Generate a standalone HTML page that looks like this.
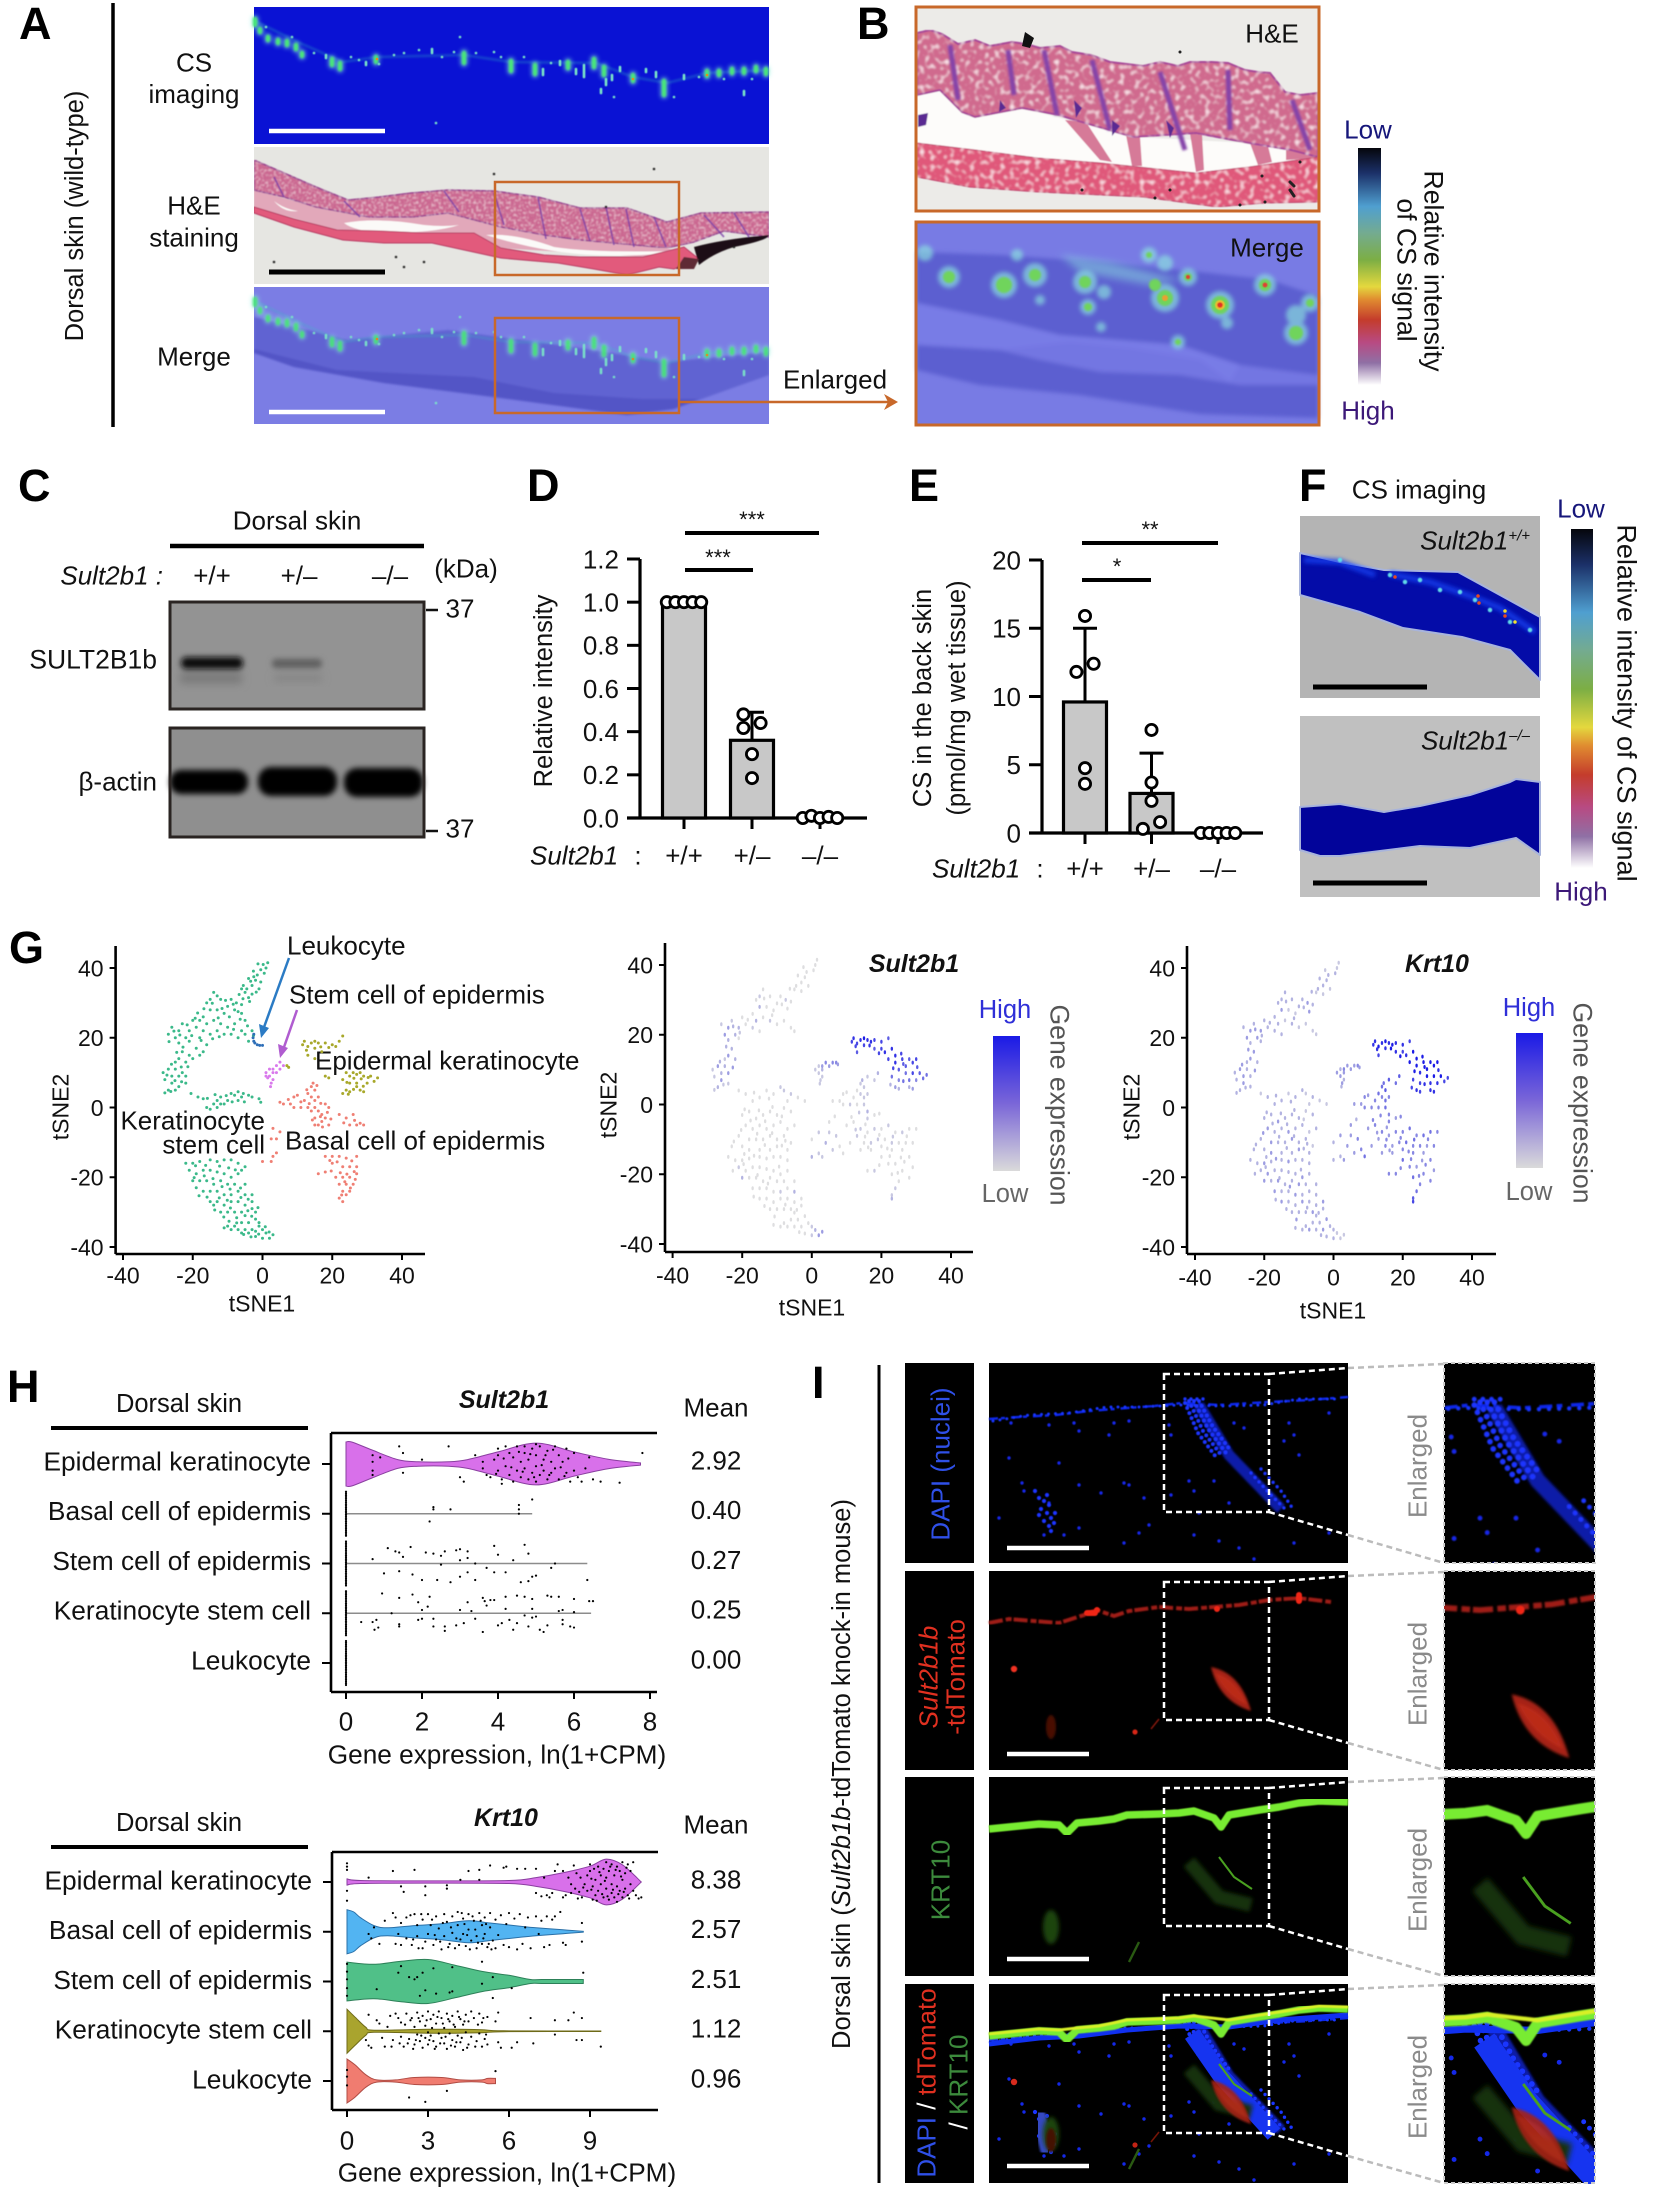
<!DOCTYPE html>
<html lang="en">
<head>
<meta charset="utf-8">
<title>Sult2b1 dorsal skin figure</title>
<style>
html,body{margin:0;padding:0;background:#fff;}
svg{display:block;}
text{font-family:"Liberation Sans",sans-serif;font-size:26px;fill:#111;}
.letter{font-size:45px;font-weight:bold;fill:#000;}
.m{text-anchor:middle;}
.e{text-anchor:end;}
.i{font-style:italic;}
.s25{font-size:25.5px;}
.s265{font-size:26.6px;}
.s22{font-size:22px;}
.s23{font-size:23px;}
.bi{font-weight:bold;font-style:italic;font-size:25px;}
.gray{fill:#8a8a8a;}
</style>
</head>
<body>
<svg id="fig" xmlns="http://www.w3.org/2000/svg" width="1654" height="2190" viewBox="0 0 1654 2190">
<defs>
<filter id="b05" x="-5%" y="-5%" width="110%" height="110%"><feGaussianBlur stdDeviation="0.6"/></filter>
<filter id="b1" x="-10%" y="-10%" width="120%" height="120%"><feGaussianBlur stdDeviation="1"/></filter>
<filter id="b2" x="-20%" y="-20%" width="140%" height="140%"><feGaussianBlur stdDeviation="2"/></filter>
<filter id="b3" x="-30%" y="-60%" width="160%" height="220%"><feGaussianBlur stdDeviation="3"/></filter>
<filter id="b4" x="-30%" y="-60%" width="160%" height="220%"><feGaussianBlur stdDeviation="4"/></filter>
<filter id="tex" x="0" y="0" width="100%" height="100%">
<feTurbulence type="fractalNoise" baseFrequency=".2" numOctaves="1" seed="3" result="n"/>
<feColorMatrix in="n" type="matrix" values="0 0 0 0 1  0 0 0 0 .86  0 0 0 0 .9  0 0 0 3 -1.55" result="w"/>
<feGaussianBlur in="w" stdDeviation=".7" result="ws"/>
<feComposite in="ws" in2="SourceAlpha" operator="in" result="wc"/>
<feMerge><feMergeNode in="SourceGraphic"/><feMergeNode in="wc"/></feMerge>
</filter>
<filter id="tex-fine" x="0" y="0" width="100%" height="100%">
<feTurbulence type="fractalNoise" baseFrequency=".4" numOctaves="1" seed="7" result="n"/>
<feColorMatrix in="n" type="matrix" values="0 0 0 0 1  0 0 0 0 .82  0 0 0 0 .88  0 0 0 1.8 -.85" result="w"/>
<feGaussianBlur in="w" stdDeviation=".6" result="ws"/>
<feComposite in="ws" in2="SourceAlpha" operator="in" result="wc"/>
<feMerge><feMergeNode in="SourceGraphic"/><feMergeNode in="wc"/></feMerge>
</filter>
<linearGradient id="cs-grad" x1="0" y1="0" x2="0" y2="1">
<stop offset="0" stop-color="#05060c"/><stop offset=".105" stop-color="#1b3068"/><stop offset=".246" stop-color="#4f9fd0"/><stop offset=".359" stop-color="#74ab90"/><stop offset=".472" stop-color="#7cae44"/><stop offset=".585" stop-color="#e4d83e"/><stop offset=".64" stop-color="#e08b30"/><stop offset=".725" stop-color="#c43c2c"/><stop offset=".82" stop-color="#b84a82"/><stop offset=".907" stop-color="#8f70a5"/><stop offset="1" stop-color="#ffffff"/>
</linearGradient>
<linearGradient id="gene-grad" x1="0" y1="0" x2="0" y2="1">
<stop offset="0" stop-color="#1a1ae6"/><stop offset=".5" stop-color="#7a66d8"/><stop offset="1" stop-color="#dadada"/>
</linearGradient>
<path id="he-upper" d="M0 13L30 26 62 40 94 53 125 50 157 46 194 43 240 44 284 50 326 61 373 61 413 75 447 66 515 65 515 90 470 84 440 95 413 101 370 97 326 93 290 88 247 80 194 66 160 70 115 70 62 60 30 50 0 43Z"/>
<path id="he-lower" d="M0 60L40 72 83 83 125 84 168 86 220 86 247 101 290 108 326 110 389 110 430 100 445 112 420 122 405 120 373 128 340 122 304 116 247 111 178 96 130 96 89 93 40 80 0 66Z"/>
<g id="cs-spots">
<path d="M1 14L46 36 89 55 123 50 210 48 257 55 342 56 379 70 413 76 453 66 515 63" fill="none" stroke="#30c8c0" stroke-width="2.5" opacity=".28" filter="url(#b1)"/>
<path d="M1 12v6M6 22v3M14 30v3M24 33v3M33 34v4M42 38v4M48 46v3M78 52v6M86 56v6M122 50v5M210 46v10M257 54v10M281 58v9M314 55v6M340 52v8M350 60v8M379 68v6M410 74v14M453 64v5M465 64v4M478 62v4M490 62v4M502 60v4M512 62v5" fill="none" stroke="#8ff0e0" stroke-width="8" stroke-linecap="round" opacity=".5" filter="url(#b2)"/>
<path d="M1 12v6M6 22v3M14 30v3M24 33v3M33 34v4M42 38v4M48 46v3M78 52v6M86 56v6M122 50v5M210 46v10M257 54v10M281 58v9M314 55v6M340 52v8M350 60v8M379 68v6M410 74v14M453 64v5M465 64v4M478 62v4M490 62v4M502 60v4M512 62v5" fill="none" stroke="#48e878" stroke-width="4.5" stroke-linecap="round" filter="url(#b1)"/>
<path d="M12 20h0M38 30h0M60 46h0M72 48v3M97 50h0M105 53h0M112 55v3M125 57h0M140 48h0M150 46h0M165 43h0M178 42v4M188 50h0M200 45h0M222 46h0M240 45h0M247 50h0M270 50h0M289 62v6M297 56h0M306 54v4M322 62v5M330 58v12M347 82v4M352 72v6M358 68v5M360 90h0M366 60v4M392 62v3M402 65v5M420 90h0M430 68v4M445 70h0M470 72h0M490 84v4M498 72h0M206 30h0M182 116h0" fill="none" stroke="#7ce8c8" stroke-width="2.6" stroke-linecap="round" filter="url(#b05)"/>
<path d="M123 52h0M379 72h0M453 68h0" fill="none" stroke="#e09020" stroke-width="2.6" stroke-linecap="round"/>
</g>
<g id="layer-dapi">
<path d="M0 56L30 54 67 52 100 48 138 45 165 43 193 40 230 42 280 39 320 37 359 34" fill="none" stroke="#0e28e8" stroke-width="2.5" stroke-dasharray="9 3 4 6"/>
<path d="M4 58L40 52 80 50 118 44 150 44 190 42 235 43 275 42 310 36 350 36" fill="none" stroke="#1636ff" stroke-width="3" stroke-dasharray="0 7" stroke-linecap="round"/>
<path d="M210 42L240 92 292 146" fill="none" stroke="#0a1aa8" stroke-width="11" filter="url(#b1)"/>
<path d="M200 38L214 68 232 92M205 38L219 66 237 90M210 38L224 64 242 88M196 40L209 70 227 94" fill="none" stroke="#1a36ff" stroke-width="4" stroke-dasharray="0 5.5" stroke-linecap="round"/>
<path d="M262 110L282 132 298 148M272 106L292 128 304 146M196 36h22" fill="none" stroke="#1a36ff" stroke-width="3.4" stroke-dasharray="0 6" stroke-linecap="round"/>
<path d="M22 60h0M60 62h0M90 68h0M85 60h0M125 60h0M120 72h0M140 58h0M180 62h0M182 72h0M245 60h0M255 65h0M300 60h0M305 72h0M340 50h0M310 92h0M295 78h0M20 95h0M33 120h0M35 128h0M70 100h0M135 120h0M140 122h0M112 130h0M90 122h0M155 135h0M182 132h0M200 118h0M205 128h0M225 118h0M240 140h0M210 150h0M160 162h0M150 170h0M135 180h0M205 172h0M230 178h0M250 185h0M265 196h0M305 180h0M340 170h0M55 172h0M75 172h0M90 165h0M10 155h0M60 140h0M50 135h0" fill="none" stroke="#1428e8" stroke-width="3.4" stroke-linecap="round"/>
<path d="M50 135h0M55 138h0M60 142h0M52 146h0M58 150h0M62 155h0M55 158h0M60 163h0M65 160h0M62 168h0M50 152h0M66 150h0M46 128h0M58 132h0" fill="none" stroke="#1a34ff" stroke-width="4.2" stroke-linecap="round"/>
</g>
<g id="layer-red">
<path d="M0 52L20 48 45 50 70 52 95 44 108 39 125 45 140 40 170 36 200 38 225 36 250 34 280 29 310 27 342 31" fill="none" stroke="#a01c14" stroke-width="4" stroke-dasharray="14 3 6 2" filter="url(#b05)"/>
<path d="M108 39h0M228 38h0M310 24v6M98 42h8" fill="none" stroke="#f02818" stroke-width="6" stroke-linecap="round"/>
<path d="M222 96Q252 102 262 140Q230 130 222 96Z" fill="#a62412" filter="url(#b1)"/>
<path d="M226 102Q248 108 258 134Q236 124 226 102Z" fill="#c8301a" opacity=".6" filter="url(#b1)"/>
<ellipse cx="62" cy="156" rx="5" ry="12" fill="#4a1006" filter="url(#b1)"/>
<circle cx="25" cy="98" r="3.2" fill="#f03020"/><circle cx="146" cy="161" r="2.6" fill="#d82818"/>
<path d="M162 158L170 148" stroke="#801808" stroke-width="1.6"/>
</g>
<g id="layer-green">
<path d="M0 52L20 50 50 47 70 48 78 56 88 46 110 44 125 42 138 38 170 37 190 36 205 34 225 41 232 50 240 38 270 33 290 30 310 26 330 24 359 25" fill="none" stroke="#78ec30" stroke-width="7.5" stroke-linejoin="round" filter="url(#b05)"/>
<path d="M230 80L245 100 263 112" fill="none" stroke="#4aa020" stroke-width="2"/>
<path d="M200 85L230 120 262 128" fill="none" stroke="#163308" stroke-width="14" filter="url(#b2)"/>
<ellipse cx="62" cy="150" rx="8" ry="17" fill="#1c4410" filter="url(#b2)"/>
<path d="M140 185L150 165" stroke="#2a5a12" stroke-width="2.4"/>
</g>
<g id="layer-merge">
<use href="#layer-dapi"/>
<path d="M0 60L50 54 90 52 138 46 190 42 240 43 290 36 359 31" fill="none" stroke="#1030f0" stroke-width="5"/>
<path d="M203 50L232 92 285 150" fill="none" stroke="#1634f0" stroke-width="17"/>
<path d="M50 132L58 165" fill="none" stroke="#3448c0" stroke-width="14" stroke-linecap="round" filter="url(#b1)"/>
<use href="#layer-green"/>
<path d="M0 50L20 48 50 45 70 46 88 44 110 42 138 36 190 34 205 32 240 36 290 28 330 22 359 23" fill="none" stroke="#d8f028" stroke-width="3" filter="url(#b05)"/>
<use href="#layer-red" opacity=".9" clip-path="url(#below-surface)"/>
</g>
<clipPath id="below-surface"><rect x="0" y="64" width="359" height="136"/></clipPath>
<clipPath id="enl-clip"><rect x="0" y="0" width="151" height="200"/></clipPath>
<clipPath id="a-he-clip"><rect x="0" y="0" width="515" height="137"/></clipPath>
</defs>
<rect x="0" y="0" width="1654" height="2190" fill="#fff"/>

<!-- Panel A -->
<g>
<text class="letter" x="19" y="39">A</text>
<line x1="113" y1="3" x2="113" y2="427" stroke="#000" stroke-width="3.5"/>
<text class="s25 m" dy=".36em" transform="translate(74,216) rotate(-90)">Dorsal skin (wild-type)</text>
<text class="m" x="194" y="62" dy=".36em">CS</text>
<text class="m" x="194" y="95" dy=".3em">imaging</text>
<text class="m" x="194" y="205" dy=".36em">H&amp;E</text>
<text class="m" x="194" y="237" dy=".36em">staining</text>
<text class="m" x="194" y="356" dy=".36em">Merge</text>

<g transform="translate(254,7)">
<rect width="515" height="137" fill="#0a12d4"/>
<use href="#cs-spots"/>
<line x1="15" y1="124" x2="131" y2="124" stroke="#fff" stroke-width="4.5"/>
</g>
<g transform="translate(254,147)">
<rect width="515" height="137" fill="#e6e6e2"/>
<g clip-path="url(#a-he-clip)" filter="url(#b05)">
<path d="M0 43L62 60 115 70 194 66 247 80 326 93 413 101 445 112 389 110 247 101 168 86 83 83 0 60Z" fill="#e2a8ba"/>
<path d="M20 54Q30 62 44 64Q30 66 20 54ZM90 76Q125 70 170 78 190 80 205 78 180 86 130 86 100 84 90 76ZM232 88Q262 86 300 100 340 106 420 104 395 110 340 108 290 106 232 88Z" fill="#fbfaf8"/>
<g filter="url(#tex-fine)"><use href="#he-upper" fill="#cb6690" stroke="#9a4490" stroke-width="1.6"/></g>
<use href="#he-lower" fill="#e25a7c" stroke="#b83c64" stroke-width="1"/>
<path d="M190 44L205 65M240 46L250 78M284 50L292 92M326 62L336 94M352 60L360 98M372 62L380 100M400 70L412 100M450 68L470 90M480 66L495 90M20 30L30 50M90 54L106 70" fill="none" stroke="#7a40a8" stroke-width="1.8" opacity=".75"/>
<path d="M440 100Q470 92 515 88 515 93 480 100 460 106 445 118Z" fill="#1c1014"/>
<path d="M430 110L445 112 440 122 422 122Z" fill="#5e2c36"/>
<path d="M240 27h0M150 120h0M170 115h0M142 110h0M20 115h0M352 60h0M400 22h0M480 100h0" stroke="#222" stroke-width="2.5" stroke-linecap="round" fill="none"/>
</g>
<rect x="241" y="35" width="184" height="93" fill="none" stroke="#c8682a" stroke-width="2.5"/>
<line x1="15" y1="125" x2="131" y2="125" stroke="#000" stroke-width="5"/>
</g>
<g transform="translate(254,287)">
<rect width="515" height="137" fill="#7b7de4"/>
<g clip-path="url(#a-he-clip)" filter="url(#b1)">
<path d="M0 30L94 53 194 43 326 61 413 75 515 65 515 88 470 104 420 122 373 128 247 111 130 96 40 80 0 66Z" fill="#6063d2"/>
<path d="M0 62L83 83 220 90 300 106 389 112 445 112 420 122 373 128 247 111 130 96 40 80 0 66Z" fill="#5254c6"/>
</g>
<use href="#cs-spots" opacity=".92"/>
<rect x="241" y="31" width="184" height="95" fill="none" stroke="#c8682a" stroke-width="2.5"/>
<line x1="15" y1="125" x2="131" y2="125" stroke="#fff" stroke-width="4.5"/>
</g>
<line x1="680" y1="402" x2="890" y2="402" stroke="#c8682a" stroke-width="2.5"/>
<path d="M898 402L884 394 888 402 884 410Z" fill="#c8682a"/>
<text class="m" x="835" y="379" dy=".36em">Enlarged</text>
</g>

<!-- Panel B -->
<g>
<text class="letter" x="857" y="39">B</text>
<g>
<rect x="916" y="7" width="403" height="204" fill="#ecebe8"/>
<g filter="url(#b05)">
<path d="M917 93L917 143 975 150 1038 158 1101 163 1196 173 1249 167 1318 157 1318 150 1249 143 1133 137 1022 108 940 90Z" fill="#fdfcfa"/>
<path d="M1065 120L1100 160 1112 162 1086 122ZM1126 135L1132 166 1142 166 1140 137ZM1190 133L1196 172 1204 170 1202 135ZM1250 143L1258 165 1272 162 1268 146ZM1286 148L1318 150 1318 158 1286 160Z" fill="#d67a98"/>
<g filter="url(#tex)">
<path d="M917 33L930 30 942 34 958 44 975 40 990 46 1012 42 1026 44 1040 48 1060 46 1072 52 1091 55 1110 62 1143 66 1160 62 1178 66 1190 62 1212 62 1228 63 1245 70 1258 72 1270 73 1285 92 1300 95 1318 93 1318 157 1291 150 1249 143 1196 133 1133 137 1075 120 1059 115 1022 108 975 117 962 112 940 90 917 95Z" fill="#d06a8e" stroke="#a84a98" stroke-width="2"/>
<path d="M917 143L975 150 1038 158 1101 163 1196 173 1249 167 1318 157 1318 202 1265 203 1217 207 1143 197 1038 192 969 187 917 177Z" fill="#e0587a" stroke="#c04870" stroke-width="1"/>
</g>
<path d="M950 45L958 100M1008 50L1014 95M1044 50L1057 115M1092 60L1110 130M1160 72L1185 150M1228 70L1230 130M1292 100L1310 150" fill="none" stroke="#8442a8" stroke-width="5" filter="url(#b1)"/>
<path d="M1000 100l6 8-7 4zM1074 100l8 8-6 10zM1112 120l8 6-8 10zM1166 120l8 8-4 10zM918 115l10-2-2 12-8 2z" fill="#5a2a92"/>
</g>
<path d="M1025 32L1034 38 1030 48 1022 46Z" fill="#111"/>
<path d="M1265 202h0M1240 205h0M1170 190h0M1290 190l4 6M1262 176h0M1300 162h0M1082 190h0M1155 198h0M1180 52h0M1290 182l4 4" stroke="#222" stroke-width="3" stroke-linecap="round" fill="none"/>
<rect x="916" y="7" width="403" height="204" fill="none" stroke="#c8682a" stroke-width="3"/>
<text class="m" x="1272" y="33" dy=".36em">H&amp;E</text>
</g>
<g>
<rect x="916" y="222" width="403" height="203" fill="#787be4"/>
<g filter="url(#b2)">
<path d="M917 252L1000 255 1100 262 1200 272 1270 280 1318 296 1318 418 1200 414 1080 395 980 385 917 370Z" fill="#5c5fd0"/>
<path d="M917 303L1000 320 1060 335 1180 345 1240 365 1318 375 1318 385 1240 385 1180 375 1100 372 1040 360 980 345 917 340Z" fill="#7376e2"/>
<path d="M917 345L1000 350 1070 342 1130 348 1200 360 1230 382 1240 365 1180 345 1060 335 1000 320 917 303Z" fill="#787be6"/>
</g>
<path d="M1060 255L1110 262 1180 280 1150 285 1080 272Z" fill="#8adce0" opacity=".5" filter="url(#b4)"/>
<g filter="url(#b2)" fill="#8feee0" opacity=".6">
<circle cx="949" cy="277" r="11"/><circle cx="1004" cy="285" r="13"/><circle cx="1035" cy="275" r="12"/><circle cx="1085" cy="282" r="12"/><circle cx="1149" cy="255" r="8"/><circle cx="1165" cy="263" r="8"/><circle cx="1165" cy="298" r="14"/><circle cx="1220" cy="305" r="14"/><circle cx="1265" cy="285" r="11"/><circle cx="1296" cy="333" r="12"/><circle cx="1296" cy="315" r="10"/><circle cx="1178" cy="342" r="7"/><circle cx="1088" cy="307" r="8"/><circle cx="1017" cy="255" r="6"/><circle cx="1104" cy="292" r="7"/><circle cx="1188" cy="277" r="9"/><circle cx="1310" cy="303" r="9"/><circle cx="1227" cy="323" r="6"/><circle cx="1101" cy="327" r="5"/><circle cx="1040" cy="300" r="5"/><circle cx="925" cy="253" r="8"/>
</g>
<g fill="#70d45c" filter="url(#b1)">
<circle cx="949" cy="277" r="6"/><circle cx="1004" cy="285" r="8"/><circle cx="1035" cy="275" r="6"/><circle cx="1085" cy="282" r="6"/><circle cx="1165" cy="298" r="8"/><circle cx="1220" cy="305" r="9"/><circle cx="1265" cy="285" r="6"/><circle cx="1296" cy="333" r="7"/><circle cx="1149" cy="255" r="3"/><circle cx="1188" cy="277" r="4"/><circle cx="1310" cy="303" r="4"/><circle cx="1155" cy="285" r="6"/><circle cx="1178" cy="342" r="3"/><circle cx="1088" cy="307" r="4"/>
</g>
<g filter="url(#b05)">
<circle cx="1220" cy="305" r="5" fill="#e8c030"/><circle cx="1220" cy="305" r="2.8" fill="#e03028"/>
<circle cx="1165" cy="298" r="3" fill="#e8a030"/><circle cx="1188" cy="277" r="2" fill="#e04030"/><circle cx="1265" cy="285" r="2.4" fill="#e04030"/>
</g>
<rect x="916" y="222" width="403" height="203" fill="none" stroke="#c8682a" stroke-width="3"/>
<text class="m" x="1267" y="247" dy=".36em">Merge</text>
</g>
<rect x="1358" y="148" width="23" height="237" fill="url(#cs-grad)"/>
<text class="m" x="1368" y="129" dy=".36em" style="fill:#16167a">Low</text>
<text class="m" x="1368" y="410" dy=".36em" style="fill:#3c1878">High</text>
<text class="s265 m" dy=".36em" transform="translate(1434,271) rotate(90)">Relative intensity</text>
<text class="s265 m" dy=".36em" transform="translate(1407,270) rotate(90)">of CS signal</text>
</g>

<!-- Panel C -->
<g>
<text class="letter" x="18" y="501">C</text>
<text class="m" x="297" y="520" dy=".36em">Dorsal skin</text>
<line x1="170" y1="546" x2="424" y2="546" stroke="#000" stroke-width="4.5"/>
<text class="i e" x="163" y="575" dy=".36em">Sult2b1 :</text>
<text class="m" x="212" y="575" dy=".36em">+/+</text>
<text class="m" x="299" y="575" dy=".36em">+/–</text>
<text class="m" x="390" y="575" dy=".36em">–/–</text>
<text class="m" x="466" y="568" dy=".36em">(kDa)</text>
<g>
<rect x="170" y="602" width="254" height="107" fill="#939393"/>
<rect x="180" y="672" width="62" height="12" fill="#7c7c7c" filter="url(#b4)"/>
<rect x="274" y="674" width="48" height="8" fill="#868686" filter="url(#b4)"/>
<rect x="181" y="657" width="62" height="12" rx="5" fill="#0c0c0c" filter="url(#b3)"/>
<rect x="272" y="659" width="50" height="9" rx="4" fill="#5e5e5e" filter="url(#b3)"/>
<rect x="170" y="602" width="254" height="107" fill="none" stroke="#2a2422" stroke-width="3"/>
</g>
<g>
<rect x="170" y="728" width="254" height="109" fill="#8f8f8f"/>
<rect x="170" y="770" width="78" height="24" rx="11" fill="#050505" filter="url(#b3)"/>
<rect x="258" y="767" width="79" height="29" rx="13" fill="#050505" filter="url(#b3)"/>
<rect x="344" y="768" width="79" height="29" rx="13" fill="#050505" filter="url(#b3)"/>
<rect x="170" y="728" width="254" height="109" fill="none" stroke="#2a2422" stroke-width="3"/>
</g>
<text class="e" x="157" y="659" dy=".36em" style="font-size:26.5px">SULT2B1b</text>
<text class="e" x="157" y="781" dy=".36em" style="font-family:'Liberation Sans','DejaVu Sans',sans-serif">β-actin</text>
<line x1="426" y1="610" x2="438" y2="610" stroke="#111" stroke-width="2.5"/>
<text class="m" x="460" y="608" dy=".36em">37</text>
<line x1="426" y1="831" x2="438" y2="831" stroke="#111" stroke-width="2.5"/>
<text class="m" x="460" y="828" dy=".36em">37</text>
</g>

<!-- Panel D -->
<g id="chart-d">
<text class="letter" x="527" y="501">D</text>
<text class="s25 m" dy=".36em" transform="translate(543,691) rotate(-90)">Relative intensity</text>
<text class="i" x="530" y="855" dy=".36em">Sult2b1</text>
<text class="m" x="638" y="855" dy=".36em">:</text>
<line x1="685" y1="533" x2="819" y2="533" stroke="#000" stroke-width="4"/>
<text class="m s22" x="752" y="527">***</text>
<line x1="685" y1="570" x2="753" y2="570" stroke="#000" stroke-width="4"/>
<text class="m s22" x="718" y="565">***</text>
</g>

<!-- Panel E -->
<g id="chart-e">
<text class="letter" x="909" y="501">E</text>
<text class="s25 m" dy=".36em" transform="translate(922,698) rotate(-90)">CS in the back skin</text>
<text class="s25 m" dy=".36em" transform="translate(956,698) rotate(-90)">(pmol/mg wet tissue)</text>
<text class="i" x="932" y="868" dy=".36em">Sult2b1</text>
<text class="m" x="1040" y="868" dy=".36em">:</text>
<line x1="1082" y1="543" x2="1218" y2="543" stroke="#000" stroke-width="4"/>
<text class="m s22" x="1150" y="537">**</text>
<line x1="1082" y1="580" x2="1151" y2="580" stroke="#000" stroke-width="4"/>
<text class="m s22" x="1117" y="574">*</text>
</g>

<!-- Panel F -->
<g>
<text class="letter" x="1299" y="501">F</text>
<text class="m" x="1419" y="489" dy=".36em">CS imaging</text>
<g>
<rect x="1300" y="516" width="240" height="182" fill="#b4b4b4"/>
<path d="M1300 553L1340 562 1384 570 1458 572 1500 595 1540 617 1540 680 1510 650 1462 637 1403 628 1360 612 1300 595Z" fill="#040ca8" stroke="#a8b4dc" stroke-width="2" stroke-linejoin="round"/>
<path d="M1304 560L1340 562 1375 575M1390 574L1430 582 1470 596 1500 608 1535 632" fill="none" stroke="#1440f0" stroke-width="6" opacity=".8" filter="url(#b2)"/>
<path d="M1340 560h0M1390 575h0M1405 582h0M1420 580h0M1440 590h0M1460 592h0M1475 600h0M1490 610h0M1510 622h0M1530 630h0" fill="none" stroke="#60d8e8" stroke-width="4.5" stroke-linecap="round" filter="url(#b05)"/>
<path d="M1478 596h0M1479 603h0M1505 616h0M1395 577h0" fill="none" stroke="#e84820" stroke-width="3.5" stroke-linecap="round"/>
<path d="M1505 611h0M1515 622h0" fill="none" stroke="#f0e030" stroke-width="3.5" stroke-linecap="round"/>
<line x1="1313" y1="687" x2="1427" y2="687" stroke="#000" stroke-width="5"/>
</g>
<text class="i e" x="1530" y="540" dy=".36em">Sult2b1<tspan dy="-9" style="font-size:15px">+/+</tspan></text>
<g>
<rect x="1300" y="716" width="240" height="181" fill="#c0c0c0"/>
<path d="M1300 807L1340 804 1384 812 1420 806 1470 795 1510 782 1516 779 1540 782 1540 855 1516 838 1470 848 1420 846 1340 856 1320 856 1300 850Z" fill="#02049a" stroke="#a8b4dc" stroke-width="2" stroke-linejoin="round"/>
<line x1="1313" y1="883" x2="1427" y2="883" stroke="#000" stroke-width="5"/>
</g>
<text class="i e" x="1530" y="740" dy=".36em">Sult2b1<tspan dy="-9" style="font-size:15px">–/–</tspan></text>
<rect x="1571" y="529" width="22" height="339" fill="url(#cs-grad)"/>
<text class="m" x="1581" y="508" dy=".36em" style="fill:#16167a">Low</text>
<text class="m" x="1581" y="891" dy=".36em" style="fill:#3c1878">High</text>
<text class="m" dy=".36em" transform="translate(1627,703) rotate(90)" style="font-size:27px">Relative intensity of CS signal</text>
</g>

<!-- Panel G -->
<g id="chart-g1">
<text class="letter" x="9" y="963">G</text>
<text x="287" y="945" dy=".36em">Leukocyte</text>
<text x="289" y="994" dy=".36em">Stem cell of epidermis</text>
<text x="315" y="1060" dy=".36em">Epidermal keratinocyte</text>
<text x="285" y="1140" dy=".36em">Basal cell of epidermis</text>
<text class="e" x="265" y="1120" dy=".36em">Keratinocyte</text>
<text class="e" x="265" y="1144" dy=".36em">stem cell</text>
<line x1="289" y1="958" x2="263" y2="1030" stroke="#2b7bc4" stroke-width="2.5"/>
<path d="M261 1038L259 1024 269 1028Z" fill="#2b7bc4"/>
<line x1="297" y1="1010" x2="283" y2="1050" stroke="#b05cd0" stroke-width="2.5"/>
<path d="M280 1058L278 1044 288 1048Z" fill="#b05cd0"/>
<text class="m s23" x="262" y="1303" dy=".36em">tSNE1</text>
<text class="m s23" dy=".36em" transform="translate(60,1107) rotate(-90)">tSNE2</text>
</g>
<g id="chart-g2">
<text class="bi m" x="914" y="963" dy=".36em">Sult2b1</text>
<text class="m s25" x="1005" y="1009" dy=".36em" style="fill:#2f2fd8">High</text>
<rect x="993" y="1036" width="27" height="135" fill="url(#gene-grad)"/>
<text class="m s25" x="1005" y="1193" dy=".36em" style="fill:#666">Low</text>
<text class="m s265" dy=".36em" transform="translate(1060,1105) rotate(90)" style="fill:#555">Gene expression</text>
<text class="m s23" x="812" y="1307" dy=".36em">tSNE1</text>
<text class="m s23" dy=".36em" transform="translate(608,1105) rotate(-90)">tSNE2</text>
</g>
<g id="chart-g3">
<text class="bi m" x="1437" y="963" dy=".36em">Krt10</text>
<text class="m s25" x="1529" y="1007" dy=".36em" style="fill:#2f2fd8">High</text>
<rect x="1516" y="1033" width="27" height="135" fill="url(#gene-grad)"/>
<text class="m s25" x="1529" y="1191" dy=".36em" style="fill:#666">Low</text>
<text class="m s265" dy=".36em" transform="translate(1583,1103) rotate(90)" style="fill:#555">Gene expression</text>
<text class="m s23" x="1333" y="1310" dy=".36em">tSNE1</text>
<text class="m s23" dy=".36em" transform="translate(1131,1107) rotate(-90)">tSNE2</text>
</g>

<!-- Panel H -->
<g id="chart-h1">
<text class="letter" x="7" y="1402">H</text>
<text class="m s25" x="179" y="1403" dy=".36em">Dorsal skin</text>
<line x1="51" y1="1428" x2="308" y2="1428" stroke="#000" stroke-width="4"/>
<text class="bi m" x="504" y="1399" dy=".36em">Sult2b1</text>
<text class="m" x="716" y="1407" dy=".36em">Mean</text>
<text class="m" x="497" y="1754" dy=".36em" style="font-size:26.2px">Gene expression, ln(1+CPM)</text>
</g>
<g id="chart-h2">
<text class="m s25" x="179" y="1822" dy=".36em">Dorsal skin</text>
<line x1="51" y1="1847" x2="308" y2="1847" stroke="#000" stroke-width="4"/>
<text class="bi m" x="506" y="1817" dy=".36em">Krt10</text>
<text class="m" x="716" y="1824" dy=".36em">Mean</text>
<text class="m" x="507" y="2172" dy=".36em" style="font-size:26.2px">Gene expression, ln(1+CPM)</text>
</g>

<!-- Panel I -->
<g>
<text class="letter" x="812" y="1398">I</text>
<line x1="879" y1="1365" x2="879" y2="2183" stroke="#000" stroke-width="3"/>
<text class="s25 m" dy=".36em" transform="translate(841,1774) rotate(-90)">Dorsal skin (<tspan class="i" style="font-style:italic">Sult2b1b</tspan>-tdTomato knock-in mouse)</text>

<g transform="translate(0,1363)">
<rect x="905" y="0" width="69" height="200" fill="#000"/>
<text class="m" dy=".36em" transform="translate(940,101) rotate(-90)" style="fill:#2f50e8">DAPI (nuclei)</text>
<g transform="translate(989,0)">
<rect width="359" height="200" fill="#000"/><use href="#layer-dapi" filter="url(#b05)"/>
<rect x="175" y="11" width="105" height="138" fill="none" stroke="#fff" stroke-width="2.5" stroke-dasharray="6 4"/>
<path d="M280 11L359 5M280 149L359 172" stroke="#fff" stroke-width="2.5" stroke-dasharray="6 4"/>
<line x1="18" y1="185" x2="100" y2="185" stroke="#fff" stroke-width="4.5"/>
<path d="M359 5L455 1M359 172L455 200" stroke="#bbb" stroke-width="2.5" stroke-dasharray="6 4"/>
</g>
<g transform="translate(1444,0)">
<rect width="151" height="200" fill="#000"/>
<g clip-path="url(#enl-clip)"><use href="#layer-dapi" transform="scale(1.44,1.45) translate(-175,-11)" filter="url(#b05)"/></g>
<rect width="151" height="200" fill="none" stroke="#ccc" stroke-width="2" stroke-dasharray="4 3"/>
</g>
<text class="m gray" dy=".36em" transform="translate(1417,103) rotate(-90)">Enlarged</text>
</g>

<g transform="translate(0,1571)">
<rect x="905" y="0" width="69" height="199" fill="#000"/>
<text class="m i" dy=".36em" transform="translate(928,106) rotate(-90)" style="fill:#e03020">Sult2b1b</text>
<text class="m" dy=".36em" transform="translate(955,106) rotate(-90)" style="fill:#e03020">-tdTomato</text>
<g transform="translate(989,0)">
<rect width="359" height="199" fill="#000"/><use href="#layer-red" filter="url(#b05)"/>
<rect x="175" y="11" width="105" height="138" fill="none" stroke="#fff" stroke-width="2.5" stroke-dasharray="6 4"/>
<path d="M280 11L359 5M280 149L359 172" stroke="#fff" stroke-width="2.5" stroke-dasharray="6 4"/>
<line x1="18" y1="183" x2="100" y2="183" stroke="#fff" stroke-width="4.5"/>
<path d="M359 5L455 1M359 172L455 199" stroke="#bbb" stroke-width="2.5" stroke-dasharray="6 4"/>
</g>
<g transform="translate(1444,0)">
<rect width="151" height="199" fill="#000"/>
<g clip-path="url(#enl-clip)"><use href="#layer-red" transform="scale(1.44,1.45) translate(-175,-11)" filter="url(#b05)"/></g>
<rect width="151" height="199" fill="none" stroke="#ccc" stroke-width="2" stroke-dasharray="4 3"/>
</g>
<text class="m gray" dy=".36em" transform="translate(1417,103) rotate(-90)">Enlarged</text>
</g>

<g transform="translate(0,1777)">
<rect x="905" y="0" width="69" height="199" fill="#000"/>
<text class="m" dy=".36em" transform="translate(940,103) rotate(-90)" style="fill:#3c8a3c">KRT10</text>
<g transform="translate(989,0)">
<rect width="359" height="199" fill="#000"/><use href="#layer-green"/>
<rect x="175" y="11" width="105" height="138" fill="none" stroke="#fff" stroke-width="2.5" stroke-dasharray="6 4"/>
<path d="M280 11L359 5M280 149L359 172" stroke="#fff" stroke-width="2.5" stroke-dasharray="6 4"/>
<line x1="18" y1="182" x2="100" y2="182" stroke="#fff" stroke-width="4.5"/>
<path d="M359 5L455 1M359 172L455 199" stroke="#bbb" stroke-width="2.5" stroke-dasharray="6 4"/>
</g>
<g transform="translate(1444,0)">
<rect width="151" height="199" fill="#000"/>
<g clip-path="url(#enl-clip)"><use href="#layer-green" transform="scale(1.44,1.45) translate(-175,-11)"/></g>
<rect width="151" height="199" fill="none" stroke="#ccc" stroke-width="2" stroke-dasharray="4 3"/>
</g>
<text class="m gray" dy=".36em" transform="translate(1417,103) rotate(-90)">Enlarged</text>
</g>

<g transform="translate(0,1984)">
<rect x="905" y="0" width="69" height="199" fill="#000"/>
<text class="m" dy=".36em" transform="translate(926,99) rotate(-90)"><tspan style="fill:#2f50e8">DAPI</tspan><tspan style="fill:#fff"> / </tspan><tspan style="fill:#e03020">tdTomato</tspan></text>
<text class="m" dy=".36em" transform="translate(958,98) rotate(-90)"><tspan style="fill:#fff">/ </tspan><tspan style="fill:#3c8a3c">KRT10</tspan></text>
<g transform="translate(989,0)">
<rect width="359" height="199" fill="#000"/><use href="#layer-merge"/>
<rect x="175" y="11" width="105" height="138" fill="none" stroke="#fff" stroke-width="2.5" stroke-dasharray="6 4"/>
<path d="M280 11L359 5M280 149L359 172" stroke="#fff" stroke-width="2.5" stroke-dasharray="6 4"/>
<line x1="18" y1="182" x2="100" y2="182" stroke="#fff" stroke-width="4.5"/>
<path d="M359 5L455 1M359 172L455 199" stroke="#bbb" stroke-width="2.5" stroke-dasharray="6 4"/>
</g>
<g transform="translate(1444,0)">
<rect width="151" height="199" fill="#000"/>
<g clip-path="url(#enl-clip)"><use href="#layer-merge" transform="scale(1.44,1.45) translate(-175,-11)"/></g>
<rect width="151" height="199" fill="none" stroke="#ccc" stroke-width="2" stroke-dasharray="4 3"/>
</g>
<text class="m gray" dy=".36em" transform="translate(1417,103) rotate(-90)">Enlarged</text>
</g>
</g>
</svg>
<script>
// ---------- Bar chart data ----------
const genotypeLabels = ['+/+', '+/–', '–/–'];
const dTicks = [0, 0.2, 0.4, 0.6, 0.8, 1.0, 1.2];
const dMeans = [1.0, 0.36, 0.01];
const dErrors = [0, 0.13, 0];
const dPointsWt = [1, 1, 1, 1, 1];
const dPointsHet = [0.48, 0.44, 0.417, 0.296, 0.185];
const dPointsKo = [0, 0.01, 0, 0.005, 0];
const dSlotsWt = [-2, -1, 0, 1, 2];
const dSlotsHet = [-1, 1, -1, 0, 0];
const dSlotsKo = [-2, -1, 0, 1, 2];
const eTicks = [0, 5, 10, 15, 20];
const eMeans = [9.6, 2.9, 0.05];
const eErrors = [5.4, 2.95, 0];
const ePointsWt = [15.9, 12.4, 11.8, 4.75, 3.6];
const ePointsHet = [7.55, 3.7, 2.35, 0.8, 0.3];
const ePointsKo = [0, 0, 0, 0, 0];
const eSlotsWt = [0, 1, -1, 0, 0];
const eSlotsHet = [0, 0, 0, 1, -1];
const eSlotsKo = [-2, -1, 0, 1, 2];

// ---------- tSNE data (tSNE1, tSNE2) ----------
const tsneTicks = [-40, -20, 0, 20, 40];
const keratinocytePoints = [[1.5,41.5],[1,40],[0.5,38.5],[-0.5,39.5],[-1.5,38],[-2,36.5],[-0.5,36],[-3,35],[-1,34],[-4,37],[-4.5,34],[-3,32.5],[-5.5,35],[-5,33],[-2.5,37.5],[-6,34],[-4,31.5],[-6,29.5],[-7.5,30],[-7,27.5],[-9,31],[-8,28],[-10,29],[-11,27],[-9.5,26],[-12,31],[-13,32],[-14,33],[-15,31],[-16,30],[-13,28],[-15,28],[-17,26],[-18,25],[-16,24],[-14,25],[-12,24],[-10,23],[-8,24],[-6,22],[-7,20],[-5,21],[-9,21],[-11,21],[-13,22],[-15,21],[-17,22],[-19,23],[-21,22],[-20,25],[-22,20],[-24,22],[-26,23],[-25,20],[-23,24],[-27,21],[-24,18.5],[-21,19],[-18,20],[-16,18],[-19,17],[-4,19],[-3,22],[-5,25],[-6,27],[-23,16],[-24,14],[-22,13],[-25,13],[-21,15],[-20,14],[-25,11],[-27,11],[-28.5,10],[-26,9],[-24,9],[-23,10],[-28,8],[-26,7],[-24,6],[-27,5],[-25,5],[-28,4.2],[-22,9],[-22,7],[-18,15],[-17,16],[-20.5,4],[-18.5,3],[-17,2.5],[-16,0],[-14,1],[-13,2],[-12,3],[-11,1],[-10,2],[-9,4],[-8,3.5],[-7,4.5],[-6,3],[-7,2],[-5.5,4],[-4,3.5],[-3,3],[-1,2.5],[-0.5,1.5],[-15,-0.5],[-13,0],[-12,1],[-22,-16],[-20,-16],[-18,-15.5],[-15,-15],[-13,-15.5],[-11,-15],[-9,-15],[-7,-16],[-6,-18],[-5,-17],[-21,-18],[-19,-19],[-17,-18],[-15,-18],[-13,-18.5],[-11,-19],[-9,-20],[-7,-19],[-20,-21],[-18,-21],[-16,-21],[-14,-22],[-12,-21],[-10,-22],[-8,-22],[-5,-22],[-19,-23],[-17,-24],[-15,-24],[-13,-24],[-11,-25],[-9,-25],[-7,-24],[-5,-25],[-3,-25],[-15,-27],[-13,-27],[-11,-28],[-9,-27],[-7,-27],[-5,-28],[-3,-27],[-14,-28],[-12,-30],[-10,-30],[-8,-30],[-6,-30],[-3,-29],[-2,-30],[-5,-31],[-4,-33],[-2,-32],[-1,-33],[-6,-33],[-8,-34],[-10,-34],[-11,-34.5],[-9,-35],[-7,-35],[-5,-35],[-3,-35],[-1,-34],[0,-35],[1,-36],[-4,-36],[-2,-37],[0,-37.5],[2,-37.5],[3,-36.5],[-6,-36],[-2,-35.5],[-1.3,41.2],[0.2,41],[-2.6,39.1],[-3.4,36.2],[-1.8,33.1],[-3.7,30.4],[-5.6,31.2],[-6.7,32.4],[-8.4,29.6],[-10.6,30.7],[-11.6,28.4],[-12.7,25.7],[-14.4,29.9],[-16.8,28.3],[-18.6,27.1],[-19.3,25.6],[-21.6,23.7],[-23.7,20.8],[-25.4,21.9],[-26.8,18.9],[-22.8,17.3],[-20.3,20.6],[-17.6,19.2],[-14.3,19.7],[-12.4,20.3],[-8.3,22.4],[-6.4,25.3],[-4.3,23.4],[-2.6,20.6],[-24.6,15.8],[-26.1,12.4],[-23.3,11.6],[-21.4,11.7],[-27.4,9.3],[-25.1,7.7],[-23.2,7.4],[-26.3,4.6],[-15.8,2.6],[-13.6,3.7],[-10.4,3.4],[-8.7,1.6],[-5.2,1.6],[-19.2,-16.7],[-16.3,-16.6],[-12.3,-16.8],[-9.7,-17.3],[-7.8,-17.9],[-19.6,-20.1],[-16.7,-19.6],[-14.2,-20.4],[-11.6,-22.7],[-9.3,-23.4],[-6.3,-23.1],[-18.2,-25.3],[-15.9,-25.7],[-12.4,-25.9],[-10.1,-26.6],[-6.2,-25.8],[-4.1,-26.3],[-13.7,-29.4],[-11.1,-31.4],[-9.2,-28.8],[-7.4,-31.6],[-4.2,-29.6],[-1.3,-28.7],[-3.1,-31.2],[-7.4,-33.1],[-9.6,-32.6],[-5.4,-36.4],[-3.3,-37.1],[-1.1,-36.3],[0.8,-34.2],[1.9,-35.7]];
const epidermalPoints = [[11.5,18],[12,19],[13,17.5],[14,18.5],[15,19],[16,18.5],[13,15],[15,17],[18,18.5],[20,18],[22,19],[23,20.5],[21,17.5],[17,16],[15,14],[18,9],[19,8.5],[24,10],[25,9],[26,10],[27,9.5],[28,10],[29,9],[31,9],[33,8.5],[23,8],[25,7],[27,7],[30,7],[32,7.5],[24,5],[25,4.5],[27,6],[28,5],[29,4.5],[23,4],[7,12],[7.5,11.5],[12.6,16.4],[16.7,17.4],[19,17.2],[24.2,7.2],[26.2,8.4],[28.3,8.2],[30.3,8.6],[26.1,5.2],[28.9,6.1],[24.6,3.8]];
const basalPoints = [[14,6],[14.5,7],[15,5],[13,4],[14,3],[16,3],[15,2],[12,2],[10,3.5],[9,3],[8,1],[6,1],[5,1.5],[9,0],[11,0],[13,0],[15,0],[16,-1],[17,-2],[15,-3],[17,-4],[18,-3],[16,-5],[19,-5],[15,-5],[18,1],[19,0],[14,-1],[22,-2],[24,-3],[25,-5],[27,-5],[26,-2],[28,-4.5],[29,-5],[4,-13],[3,-14],[2.5,-15.5],[0,-15.5],[18,-14],[20,-14],[22,-14],[24,-14.5],[27,-14],[20,-16],[23,-17],[25,-17],[27,-17],[18,-18.5],[16,-19],[21,-20],[23,-20],[25,-20],[27,-19],[22,-22],[24,-22],[26,-22],[25,-24],[23,-24],[24,-25],[22,-26],[23,-27],[3,-6],[2.5,-9],[5,-7],[4,-9],[12.7,5.1],[15.6,6.3],[13.4,1.1],[16.7,1.2],[11,1.6],[7.4,2.3],[16.6,-2.6],[14.3,-3.6],[18.6,-1.4],[19.6,-3.3],[17.2,-5.6],[23.3,-4.4],[26.4,-3.7],[19.3,-15.2],[21.4,-15.6],[25.6,-15.3],[26.3,-18.4],[22.3,-18.7],[19.7,-18.2],[24.2,-19.1],[26.6,-20.6],[23.6,-21.3],[25.2,-23.1],[22.7,-25.1]];
const stemPoints = [[1,10],[2,9],[3,10],[2,11],[3,11],[4,12],[3,8],[2.5,7],[2.3,6],[1.5,8.5],[5,11],[1,9],[4,10],[5,13],[6,12]];
const leukocytePoints = [[-2.5,21],[-2.5,19],[-2.2,18.5],[-1.5,18],[-0.8,17.8],[0,17.8],[-2.7,20]];

// ---------- Expression per cell: tSNE1, tSNE2, Sult2b1 level, Krt10 level (0–9) ----------
const expressionPoints = [[1.5,41.5,0,1],[1,40,0,1],[0.5,38.5,0,2],[-1.5,38,0,2],[-2,36.5,0,2],[-3,35,0,2],[-1,34,0,1],[-4,37,0,2],[-4.5,34,0,2],[-3,32.5,0,1],[-5,33,0,1],[-6,29.5,0,2],[-7.5,30,1,3],[-7,27.5,0,3],[-9,31,0,2],[-10,29,0,2],[-11,27,0,1],[-12,31,0,2],[-14,33,0,2],[-15,31,1,2],[-16,30,0,2],[-13,28,0,1],[-15,28,2,3],[-17,26,0,2],[-16,24,2,2],[-14,25,0,1],[-12,24,1,2],[-10,23,0,1],[-8,24,0,1],[-6,22,0,1],[-5,21,0,1],[-15,21,0,2],[-17,22,1,2],[-19,23,0,2],[-21,22,2,3],[-20,25,0,2],[-22,20,2,3],[-24,22,3,3],[-26,23,1,2],[-25,20,3,3],[-23,24,1,2],[-24,18.5,2,2],[-21,19,0,2],[-23,16,2,3],[-24,14,3,3],[-22,13,2,2],[-25,13,1,2],[-25,11,2,2],[-27,11,3,3],[-28.5,10,1,2],[-26,9,2,3],[-24,9,3,2],[-28,8,1,2],[-26,7,3,3],[-24,6,1,2],[-27,5,2,2],[-28,4.2,1,2],[-21,4,0,1],[-19,3,0,2],[-17,1,0,2],[-15,2,0,2],[-13,4,0,1],[-11,3,0,2],[-9,5,1,2],[-8,4,1,1],[-6,3,1,2],[-7,1,0,1],[-4,2,0,1],[-2,1,0,1],[-20,-3,0,2],[-18,-2,0,2],[-16,-4,0,3],[-14,-3,0,2],[-12,-2,0,2],[-10,-3,0,2],[-8,-1,0,1],[-6,-2,0,2],[-19,-6,0,3],[-17,-7,0,2],[-15,-6,0,2],[-13,-7,0,3],[-11,-6,0,2],[-9,-5,0,2],[-7,-7,0,1],[-5,-6,0,2],[-21,-9,0,2],[-18,-10,0,3],[-16,-10,0,2],[-14,-10,0,2],[-12,-9,0,3],[-10,-10,0,2],[-8,-9,0,2],[-6,-11,0,1],[-23,-12,0,2],[-20,-12,0,2],[-18,-13,0,3],[-15,-13,0,2],[-12,-13,0,2],[-10,-12,0,3],[-7,-13,0,2],[-24,-15,0,2],[-22,-16,0,2],[-20,-16,0,3],[-18,-15.5,0,2],[-15,-15,0,2],[-13,-15.5,0,3],[-11,-15,0,2],[-9,-15,0,2],[-7,-16,0,2],[-21,-18,1,2],[-19,-19,0,3],[-17,-18,0,2],[-15,-18,0,2],[-13,-18.5,0,2],[-11,-19,0,2],[-9,-20,0,3],[-7,-19,0,2],[-20,-21,2,3],[-18,-21,0,2],[-16,-21,0,3],[-14,-22,0,2],[-12,-21,0,2],[-10,-22,0,3],[-8,-22,0,2],[-5,-22,0,2],[-17,-24,0,3],[-15,-24,0,2],[-13,-24,0,2],[-11,-25,0,3],[-9,-25,1,2],[-7,-24,0,2],[-5,-25,2,2],[-15,-27,0,3],[-13,-27,0,2],[-11,-28,0,2],[-9,-27,0,3],[-7,-27,0,2],[-5,-28,0,2],[-3,-27,0,3],[-12,-30,0,2],[-10,-30,0,2],[-8,-30,0,2],[-6,-30,0,3],[-3,-29,0,2],[-5,-31,0,2],[-4,-33,0,2],[-2,-32,0,3],[-6,-33,0,2],[-8,-34,0,2],[-11,-34.5,0,2],[-9,-35,0,2],[-7,-35,0,3],[-5,-35,0,2],[-3,-35,0,3],[-1,-34,0,2],[0,-35,1,2],[1,-36,2,1],[-2,-37,0,2],[0,-37.5,1,2],[2,-37.5,3,1],[3,-36.5,3,1],[2,-8,1,3],[0,-10,0,2],[5,-8,1,3],[4,-11,2,3],[6,-13,1,3],[8,-12,0,4],[2,-14,1,2],[5,-5,0,3],[7,-9,1,4],[9,-14,0,5],[0,-15,2,2],[3,-15,1,3],[11,-11,0,3],[10,-6,0,3],[12,-5,0,4],[14,-7,1,4],[16,-8,0,3],[18,-7,1,4],[20,-7,0,4],[22,-6,1,5],[24,-8,0,4],[26,-8,1,5],[28,-7,0,5],[30,-7,0,4],[13,-9,1,3],[15,-11,0,4],[17,-11,1,3],[19,-10,1,4],[21,-10,0,5],[23,-11,1,4],[25,-11,0,4],[27,-11,0,3],[29,-11,0,4],[14,-13,0,3],[17,-13,0,3],[20,-12,0,4],[23,-13,0,4],[26,-13,0,3],[28,-15,0,4],[29,-18,0,3],[28,-21,0,4],[20,-15,0,5],[22,-17,0,4],[24,-17,0,3],[26,-19,0,4],[18,-19,1,4],[16,-19,0,4],[23,-20,0,5],[25,-22,0,4],[24,-24,1,5],[23,-26,1,6],[23,-27,2,7],[14,6,1,5],[14.5,7,2,5],[15,5,1,6],[13,4,0,5],[14,3,1,4],[16,3,1,4],[15,2,1,5],[12,2,0,4],[10,3.5,0,3],[9,3,0,4],[8,1,0,3],[6,1,0,3],[9,0,0,4],[11,0,1,4],[13,0,0,4],[15,0,1,5],[16,-2,2,4],[18,-3,0,3],[16,-4,1,4],[1,10,1,3],[2,9,1,3],[3,10,2,3],[2,11,1,2],[3,11,3,4],[4,12,4,3],[3,8,1,2],[2.5,7,1,3],[2.3,6,1,2],[5,11,3,3],[6,12,4,3],[7,12,4,4],[7.5,11.5,3,3],[11.5,18,7,8],[12,19,8,8],[13,17.5,7,9],[14,18.5,8,8],[15,19,9,9],[16,18.5,8,8],[13,15,6,7],[15,17,7,8],[17,18,8,9],[18,18.5,7,8],[20,18,7,8],[18,16,6,8],[20,16,7,7],[22,19,6,7],[21,15,8,8],[23,16,8,9],[24,14,8,9],[22,13,7,9],[24,12,8,9],[26,13,7,9],[28,13,6,9],[29,12,7,9],[30,13,7,9],[27,11,6,9],[25,10,6,8],[27,9,5,9],[29,9,7,9],[31,9,6,9],[33,8.5,5,7],[23,8,5,7],[25,7,4,7],[28,7,5,8],[30,7,4,8],[32,7.5,5,7],[24,5,3,8],[25,4.5,2,7],[28,5,2,8],[29,4.5,3,8],[19,9,2,6],[18,7,1,5],[16,8,1,6],[-2.4,39.4,0,1],[-6.3,33.2,0,2],[-8.6,28.7,0,2],[-11.4,25.6,0,2],[-13.7,30.4,0,2],[-18.4,24.3,0,2],[-20.7,20.6,1,2],[-22.6,22.4,2,3],[-24.6,16.6,2,3],[-26.4,12.3,2,3],[-22.7,10.6,3,3],[-25.4,5.7,1,2],[-16.6,3.4,0,2],[-12.3,1.7,0,2],[-19.3,-1.4,0,2],[-15.2,-1.7,0,2],[-11.3,-0.7,0,2],[-17.6,-4.6,0,2],[-13.4,-4.8,0,2],[-8.6,-3.4,0,1],[-20.3,-7.3,0,3],[-15.7,-8.4,0,2],[-11.4,-8.2,0,2],[-7.6,-10.4,0,2],[-22.4,-10.6,0,2],[-19.4,-14.2,0,2],[-16.6,-14.7,0,3],[-13.5,-11.6,0,2],[-8.6,-11.8,0,2],[-22.7,-19,0,2],[-19.6,-17.1,0,2],[-15.6,-20.2,0,2],[-12.6,-22.7,0,3],[-9.4,-17.8,0,2],[-16.7,-26.4,0,2],[-13.6,-29.1,0,2],[-10.7,-32.1,0,3],[-7.6,-28.7,0,2],[-4.3,-30.2,0,2],[-3.6,-36.6,0,2],[12.6,-7.2,1,3],[15.3,-9.2,0,4],[19.4,-8.7,0,4],[23.3,-9.2,1,5],[27.3,-9.1,0,4],[16.2,-12.3,0,3],[21.7,-12.6,0,4],[25.6,-15.2,0,3],[22.4,-14.8,0,4],[19.4,-17.4,0,4],[26.6,-16.4,0,4],[24.7,-19.6,0,4],[11.4,-3.6,0,4],[13.6,-2.3,1,4],[15.4,-5.7,0,3],[19.4,-2.6,0,4],[6.6,-3.4,0,2],[12.6,16.7,7,8],[16.6,16.9,8,9],[19.3,14.7,7,9],[25.7,14.6,7,9],[23.4,10.4,7,9],[26.3,11.6,6,9],[30.3,10.7,6,8],[26.3,6.7,5,8],[22.6,5.7,2,7]];

// ---------- Violin data: value grid + relative density ----------
const h1Ticks = [0, 2, 4, 6, 8];
const h2Ticks = [0, 3, 6, 9];
const rowLabels = ['Epidermal keratinocyte', 'Basal cell of epidermis', 'Stem cell of epidermis', 'Keratinocyte stem cell', 'Leukocyte'];
const sultMeans = ['2.92', '0.40', '0.27', '0.25', '0.00'];
const krtMeans = ['8.38', '2.57', '2.51', '1.12', '0.96'];
const sultEpiGrid = [0, 0.15, 0.68, 1.36, 1.9, 2.7, 3.2, 4, 5, 6, 6.9, 7.75];
const sultEpiDensity = [1, 1, 0.64, 0.2, 0.1, 0.1, 0.2, 0.55, 0.95, 0.55, 0.22, 0.05];
const sultLineMax = [4.9, 6.35, 6.45];
const krtEpiGrid = [0, 0.5, 3, 6, 7, 8, 9, 9.6, 10.2, 10.9];
const krtEpiDensity = [0.14, 0.07, 0.05, 0.07, 0.2, 0.42, 0.72, 1.04, 0.78, 0];
const krtBasalGrid = [0, 0.25, 0.5, 1, 1.5, 2.5, 3.5, 4.5, 5.3, 6.5, 7, 8, 8.75];
const krtBasalDensity = [1, 0.9, 0.64, 0.28, 0.18, 0.28, 0.36, 0.5, 0.4, 0.24, 0.18, 0.09, 0.02];
const krtStemGrid = [0, 1, 2, 3, 4, 5, 6, 6.8, 7.2, 8.75];
const krtStemDensity = [0.88, 0.78, 0.92, 1, 0.74, 0.46, 0.28, 0.09, 0.09, 0.09];
const krtKscGrid = [0, 0.3, 0.7, 1, 3, 4, 5, 5.8, 9.4];
const krtKscDensity = [1, 0.64, 0.18, 0.05, 0.09, 0.09, 0.07, 0.02, 0.01];
const krtLeukGrid = [0, 0.3, 0.7, 1.1, 1.8, 2.5, 3.5, 4.2, 5, 5.2, 5.5];
const krtLeukDensity = [1, 0.73, 0.28, 0.05, 0.05, 0.16, 0.16, 0.05, 0.05, 0.12, 0.12];

// ---------- Violin jitter points: [expression, vertical jitter] ----------
const sultEpiDots = [[0.7,-0.4],[0.7,-0.1],[0.7,0.3],[0.7,0.5],[0.9,-0.3],[1.4,-0.8],[1.5,-0.5],[1.5,0.4],[2,-0.2],[2.7,-0.8],[3,0.6],[3.1,0.8],[3.4,-0.4],[3.6,0.2],[3.7,0.5],[3.6,-0.1],[3.8,0.6],[3.9,-0.2],[4,-0.7],[4,-0.4],[4,0.3],[4.1,0.7],[4.1,0.9],[4.2,-0.8],[4.2,0.1],[4.3,-0.5],[4.3,0.5],[4.4,-0.3],[4.4,0.8],[4.5,-0.8],[4.5,0.3],[4.6,-0.1],[4.6,0.6],[4.7,-0.8],[4.7,-0.5],[4.7,0.2],[4.8,0.7],[4.8,-0.2],[4.9,0.4],[4.9,-0.7],[5,-0.9],[5,-0.4],[5,0.1],[5,0.8],[5.1,0.5],[5.1,-0.8],[5.2,-0.2],[5.2,0.3],[5.3,0.7],[5.3,-0.6],[5.4,-0.1],[5.4,0.4],[5.5,-0.8],[5.5,0.2],[5.6,-0.4],[5.6,0.7],[5.7,-0.1],[5.8,0.4],[5.8,-0.7],[5.9,0.8],[6,-0.5],[6,0.3],[6.1,0.6],[6.2,0.8],[6.3,0.2],[6.4,-0.3],[6.5,0.7],[6.7,0.8],[7.2,0.85],[7.8,-0.5],[4.35,0.15],[4.55,-0.55],[4.65,0.35],[4.85,-0.45],[4.95,0.6],[5.15,0.05],[5.25,-0.4],[5.35,0.5],[5.45,-0.65],[5.65,0.15],[5.75,0.55],[5.85,-0.25],[3.95,0.45],[4.15,-0.25]];
const sultBasalDots = [[2.3,-0.2],[2.3,-0.3],[2.2,0.35],[2.75,-0.2],[4.55,-0.4],[4.55,-0.2],[4.55,0],[4.9,-0.65]];
const sultStemDots = [[0.7,-0.2],[1.1,-0.7],[1.3,-0.55],[1.4,-0.5],[1.7,-0.75],[1.5,-0.3],[2.1,-0.5],[2.3,-0.45],[2.5,-0.35],[2.6,-0.55],[2.9,-0.6],[3,-0.65],[3,-0.15],[3.2,-0.25],[3.2,-0.55],[3.4,0],[3.9,-0.8],[4,-0.4],[4.4,-0.15],[4.7,-0.85],[4.8,-0.45],[5.5,0],[1,0.45],[1.4,0.35],[1.75,0.5],[2,0.75],[2.4,0.75],[2.5,0.05],[2.75,0.85],[3,0.6],[3.2,0.4],[3.4,0.75],[3.7,0.2],[3.9,0.4],[4.2,0.4],[4.6,0.85],[4.8,0.8],[4.9,0.6],[5,0.55],[5.4,0.2],[6.35,0.75]];
const sultKscDots = [[0.95,-0.9],[1.4,-0.7],[1.75,-0.85],[1.9,-0.5],[2.2,-0.75],[2,-0.15],[2.15,-0.3],[3,-0.15],[3.2,-0.5],[3.3,-0.1],[3.6,-0.7],[3.65,-0.55],[3.7,-0.35],[3.8,-0.6],[3.9,-0.6],[4.2,-0.75],[4.2,-0.2],[4.5,-0.8],[4.7,-0.75],[4.9,-0.65],[4.9,-0.2],[5.3,-0.8],[5.4,-0.75],[5.6,-0.75],[6,-0.65],[6.4,-0.55],[6.5,-0.55],[5.6,-0.1],[5.7,-0.15],[6,-0.05],[0.4,0.4],[0.7,0.4],[0.8,0.3],[0.75,0.75],[0.85,0.65],[1.4,0.6],[1.4,0.5],[1.2,0],[1.9,0.3],[2,0.25],[2.3,0.25],[2.3,0.6],[2.6,0.6],[2.6,0.8],[2.9,0.55],[3.1,0.45],[3.4,0.25],[3.6,0.85],[4,0.55],[4.1,0.45],[4.3,0.3],[4.4,0.75],[4.5,0.45],[4.7,0.1],[4.8,0.6],[4.9,0.2],[5,0.15],[5.1,0.75],[5.2,0.85],[5.3,0.55],[5.7,0.3],[5.7,0.5],[5.9,0.6],[6,0.65]];
const krtEpiDots = [[0,-0.85],[0,-0.7],[0,-0.55],[0,0.4],[0,0.85],[0.8,-0.2],[1.7,-0.5],[2.5,-0.55],[2,0.2],[2.1,0.45],[2.9,0.2],[2.9,0.6],[3.7,0.15],[3.7,0.3],[4.2,-0.1],[4.5,-0.5],[4.9,-0.1],[4.9,-0.55],[5.3,-0.75],[5.8,-0.65],[5.9,-0.7],[6.3,-0.6],[6.6,-0.6],[7,-0.6],[7.3,-0.2],[7,0.5],[7.2,0.65],[7.4,0.6],[7.5,0.7],[7.6,0.5],[7.7,-0.5],[7.8,-0.8],[8,-0.5],[8,0.7],[8.1,0.6],[8.2,-0.2],[8.3,0.1],[8.3,0.5],[8.4,-0.75],[8.5,-0.4],[8.6,0.45],[8.7,0.7],[8.8,0.1],[8.9,-0.3],[8.9,0.4],[9,-0.8],[9,-0.5],[9.1,0.8],[9.1,0.2],[9.2,-0.1],[9.2,0.6],[9.3,-0.7],[9.3,0.4],[9.4,-0.3],[9.4,0.1],[9.5,0.7],[9.5,-0.6],[9.6,-0.9],[9.6,-0.2],[9.6,0.3],[9.7,0.8],[9.7,-0.5],[9.8,0.1],[9.8,0.5],[9.8,-0.8],[9.9,-0.3],[9.9,0.7],[10,-0.7],[10,0.2],[10,0.9],[10.1,-0.5],[10.1,0.4],[10.2,-0.9],[10.2,-0.1],[10.2,0.7],[10.3,-0.4],[10.3,0.3],[10.4,-0.8],[10.4,0.6],[10.5,0.1],[10.5,-0.5],[10.6,-0.9],[10.6,0.4],[10.7,0.6],[10.8,0.75],[10.9,0.7],[9.05,0.35],[9.25,0.85],[9.35,-0.45],[9.45,0.55],[9.55,-0.05],[9.65,0.65],[9.75,-0.7],[9.85,0.35],[9.95,-0.55],[10.05,0.55],[10.15,-0.25],[10.25,0.45],[10.35,-0.65],[10.45,0.75],[8.65,-0.2],[8.75,0.25],[8.55,0.75],[8.45,0.3],[9.15,-0.6],[9.05,-0.15]];
const krtBasalDots = [[0.8,0.1],[0.9,0.3],[1,-0.2],[1.2,0.55],[1.4,-0.5],[1.7,-0.85],[1.8,-0.65],[1.8,0.55],[1.9,0.1],[2,-0.4],[2,0.6],[2.2,-0.65],[2.2,0.3],[2.4,0.6],[2.5,-0.8],[2.6,-0.3],[2.6,0.2],[2.8,-0.55],[2.8,0.75],[3,-0.8],[3,0.1],[3.1,-0.3],[3.2,0.6],[3.3,-0.7],[3.3,0.35],[3.4,-0.15],[3.5,0.8],[3.6,-0.8],[3.6,0.2],[3.7,-0.45],[3.8,0.55],[3.9,-0.7],[3.9,0.05],[4,0.75],[4.1,-0.9],[4.1,-0.3],[4.2,0.35],[4.3,-0.6],[4.3,0.1],[4.4,0.65],[4.5,-0.8],[4.5,-0.1],[4.6,0.4],[4.7,-0.5],[4.8,0.2],[4.8,0.75],[4.9,-0.85],[5,-0.3],[5,0.55],[5.1,-0.65],[5.1,0.1],[5.2,0.7],[5.3,-0.85],[5.3,-0.2],[5.4,0.4],[5.5,-0.55],[5.5,0.75],[5.6,0.15],[5.7,-0.75],[5.8,0.6],[5.9,-0.35],[6,-0.85],[6,0.7],[6.2,-0.6],[6.3,0.8],[6.4,-0.8],[6.5,0.55],[6.6,-0.2],[6.7,-0.65],[6.8,0.75],[7,-0.7],[7.1,0.1],[7.2,-0.5],[7.3,0.7],[7.4,-0.7],[7.5,0.6],[7.6,-0.55],[7.7,-0.7],[7.9,-0.9],[8,0.5],[8.1,0.6],[8.7,-0.4],[8.7,0.45],[3.15,-0.55],[3.25,0.15],[3.45,0.45],[3.55,-0.4],[3.75,0.7],[3.85,-0.2],[4.05,0.3],[4.15,0.6],[4.25,-0.85],[4.35,-0.35],[4.45,0.15],[4.55,0.8],[4.65,-0.7],[4.75,-0.1],[4.85,0.5],[4.95,-0.5],[5.05,0.3],[5.15,-0.35],[5.25,0.55],[5.35,0.8],[2.35,-0.75],[2.45,0.35],[2.65,0.75],[2.75,-0.8],[2.9,0.45]];
const krtStemDots = [[0,-0.8],[0,-0.45],[0,-0.1],[0,0.3],[0,0.65],[1.1,0.35],[1.9,-0.4],[2,-0.7],[2.3,-0.2],[2.5,-0.1],[2.8,-0.4],[2.6,-0.2],[3.2,-0.6],[2.9,0.4],[2.7,0.65],[3.3,0.55],[3.9,-0.65],[3.9,0.45],[3.8,0.5],[5,-0.9],[5,0.1],[5.4,-0.2],[6.1,0.3],[5.4,0.75],[8.75,-0.4]];
const krtKscDots = [[0.8,-0.75],[0.7,0.4],[0.8,0.65],[0.9,0.75],[1.1,-0.5],[1.2,-0.35],[1.3,0.3],[1.4,0.7],[1.5,-0.2],[1.7,0.4],[1.8,-0.8],[1.9,-0.6],[2,-0.4],[2,0.25],[2.1,0.7],[2.2,-0.8],[2.3,0.35],[2.4,-0.6],[2.5,-0.2],[2.5,0.6],[2.6,-0.85],[2.6,0.15],[2.7,-0.45],[2.7,0.45],[2.8,0.75],[2.8,-0.7],[2.9,-0.25],[2.9,0.3],[3,-0.9],[3,0.05],[3,0.6],[3.1,-0.55],[3.1,0.2],[3.2,-0.75],[3.2,0.45],[3.3,-0.35],[3.3,0.7],[3.4,-0.9],[3.4,0.1],[3.5,-0.6],[3.5,0.3],[3.6,-0.15],[3.6,0.55],[3.7,-0.8],[3.7,0.8],[3.8,-0.45],[3.8,0.1],[3.9,-0.7],[3.9,0.4],[4,-0.2],[4,0.7],[4.1,-0.9],[4.1,0.2],[4.2,-0.55],[4.2,0.5],[4.3,-0.3],[4.3,0.85],[4.4,-0.75],[4.4,0.05],[4.5,-0.45],[4.5,0.6],[4.6,-0.9],[4.6,0.25],[4.7,-0.6],[4.8,0.45],[4.9,-0.8],[4.9,0.1],[5,-0.4],[5,0.7],[5.1,0.35],[5.2,0.6],[5.2,-0.65],[5.5,-0.45],[5.6,-0.85],[5.6,0.5],[5.7,0.75],[6.1,0.75],[6.3,0.5],[6.8,-0.6],[6.9,0.55],[7.7,-0.5],[7.7,0.15],[8.2,-0.5],[8.4,-0.85],[8.5,0.4],[8.7,-0.6],[8.7,0.4],[9.4,0.7],[2.95,-0.5],[3.05,0.4],[3.15,-0.15],[3.25,0.8],[3.35,-0.65],[3.45,0.55],[3.55,-0.35],[3.65,0.25],[3.75,-0.55],[3.85,0.65],[3.95,-0.3],[4.05,0.5],[4.15,-0.65],[4.25,0.3],[4.35,-0.45],[4.45,0.75],[2.25,0.55],[2.35,-0.5],[2.45,0.8],[2.55,0.4],[2.65,-0.6],[2.75,0.2],[1.6,-0.7],[1.65,0.7],[1.95,0.55],[2.15,-0.3],[4.75,0.7],[4.85,-0.3],[5.05,-0.6],[5.15,0.15]];
const krtLeukDots = [[0,-0.5],[0,-0.2],[0,0.2],[5.5,-0.45],[3.7,0.45],[2.3,0.75],[2.9,0.95]];
const zeroColumnJitter = [-1,-0.92,-0.84,-0.76,-0.68,-0.6,-0.52,-0.44,-0.36,-0.28,-0.2,-0.12,-0.04,0.04,0.12,0.2,0.28,0.36,0.44,0.52,0.6,0.68,0.76,0.84,0.92,1];

const SVG_NS = 'http://www.w3.org/2000/svg';
function make(tag, parent, attrs) {
  const el = document.createElementNS(SVG_NS, tag);
  for (const k in attrs) el.setAttribute(k, attrs[k]);
  parent.appendChild(el);
  return el;
}
function linear(d0, p0, d1, p1) {
  return function (v) { return p0 + (v - d0) * (p1 - p0) / (d1 - d0); };
}
function axisLine(parent, x1, y1, x2, y2, w, name) {
  const el = make('line', parent, { x1: x1, y1: y1, x2: x2, y2: y2, stroke: '#000', 'stroke-width': w });
  
  
  return el;
}
function label(parent, x, y, str, anchor, size, name) {
  const el = make('text', parent, { x: x, y: y, dy: '.36em', 'text-anchor': anchor });
  el.style.fontSize = size + 'px';
  el.textContent = str;
  
  
  return el;
}

// ---------- Bar charts ----------
function drawBars(parent, prefix, yScale, ticks, tickFmt, means, errors, groups, slots, xCenters, barHalf, slotGap, axisX, baseX2, labelY, fmtSize) {
  const base = yScale(0);
  const top = yScale(ticks[ticks.length - 1]);
  axisLine(parent, axisX, top, axisX, base, 3.2, prefix + '-y-axis');
  axisLine(parent, axisX - 13, base, baseX2, base, 3.2, prefix + '-x-axis');
  ticks.forEach(function (t) {
    axisLine(parent, axisX - 13, yScale(t), axisX, yScale(t), 3, prefix + '-y-tick');
    label(parent, axisX - 21, yScale(t), tickFmt(t), 'end', fmtSize, prefix + '-y-tick-label');
  });
  means.forEach(function (m, i) {
    const cx = xCenters(i);
    axisLine(parent, cx, base, cx, base + 11, 3, prefix + '-x-tick');
    label(parent, cx, labelY, genotypeLabels[i], 'middle', 26, prefix + '-x-tick-label');
    if (m > 0.5 * (ticks[1] - ticks[0]) * 0.5) {
      const bar = make('rect', parent, { x: cx - barHalf, y: yScale(m), width: 2 * barHalf, height: base - yScale(m), fill: '#c8c8c8', stroke: '#000', 'stroke-width': 3.2 });
      
      
    }
    if (errors[i] > 0) {
      axisLine(parent, cx, yScale(m), cx, yScale(m + errors[i]), 3, prefix + '-error-bar');
      axisLine(parent, cx - 12, yScale(m + errors[i]), cx + 12, yScale(m + errors[i]), 3, prefix + '-error-cap');
    }
    groups[i].forEach(function (v, j) {
      const dot = make('circle', parent, { cx: cx + slots[i][j] * slotGap, cy: yScale(v), r: 5.6, fill: '#fff', stroke: '#000', 'stroke-width': 2.8 });
      
      
    });
  });
}
drawBars(document.getElementById('chart-d'), 'd', linear(0, 818, 1.2, 559), dTicks, function (t) { return t.toFixed(1); }, dMeans, dErrors, [dPointsWt, dPointsHet, dPointsKo], [dSlotsWt, dSlotsHet, dSlotsKo], linear(0, 684, 2, 820), 21.5, 8.6, 640, 867, 855, 26);
drawBars(document.getElementById('chart-e'), 'e', linear(0, 833, 20, 560), eTicks, function (t) { return String(t); }, eMeans, eErrors, [ePointsWt, ePointsHet, ePointsKo], [eSlotsWt, eSlotsHet, eSlotsKo], linear(0, 1085, 2, 1218), 21.5, 8.6, 1042, 1263, 868, 26);

// ---------- tSNE plots ----------
function drawTsneAxes(parent, prefix, xs, ys, left, top, bottom, right, tickLabelY) {
  axisLine(parent, left, top, left, bottom, 2.6, prefix + '-y-axis');
  axisLine(parent, left, bottom, right, bottom, 2.6, prefix + '-x-axis');
  tsneTicks.forEach(function (t) {
    axisLine(parent, xs(t), bottom, xs(t), bottom + 6, 2, prefix + '-x-tick');
    label(parent, xs(t), tickLabelY, String(t), 'middle', 23, prefix + '-x-tick-label');
    axisLine(parent, left - 6, ys(t), left, ys(t), 2, prefix + '-y-tick');
    label(parent, left - 12, ys(t), String(t), 'end', 23, prefix + '-y-tick-label');
  });
}
const g1 = document.getElementById('chart-g1');
const g1x = linear(-40, 123, 40, 402);
const g1y = linear(-40, 1247, 40, 968);
drawTsneAxes(g1, 'g1', g1x, g1y, 115.6, 946, 1254, 425, 1275);
function drawCluster(points, color, name) {
  points.forEach(function (p) {
    const dot = make('circle', g1, { cx: g1x(p[0]), cy: g1y(p[1]), r: 1.5, fill: color });
    
    
  });
}
drawCluster(keratinocytePoints, '#3bb98a', 'keratinocyte-stem-cell-point');
drawCluster(epidermalPoints, '#a8a82a', 'epidermal-keratinocyte-point');
drawCluster(basalPoints, '#ef7f74', 'basal-cell-point');
drawCluster(stemPoints, '#d97aec', 'stem-cell-point');
drawCluster(leukocytePoints, '#2f6fb8', 'leukocyte-point');

function levelColor(level) {
  const t = level / 9;
  const r = Math.round(222 + (28 - 222) * t);
  const g = Math.round(222 + (28 - 222) * t);
  const b = Math.round(224 + (230 - 224) * t);
  return 'rgb(' + r + ',' + g + ',' + b + ')';
}
function drawExpression(parent, prefix, xs, ys, idx) {
  expressionPoints.forEach(function (p) {
    const dot = make('ellipse', parent, { cx: xs(p[0]), cy: ys(p[1]), rx: 1.2, ry: 2, fill: levelColor(p[idx]) });
    
    
  });
}
const g2 = document.getElementById('chart-g2');
const g2x = linear(-40, 672.6, 40, 951);
const g2y = linear(-40, 1244, 40, 965);
drawTsneAxes(g2, 'g2', g2x, g2y, 665, 943, 1252, 973, 1275);
drawExpression(g2, 'g2', g2x, g2y, 2);
const g3 = document.getElementById('chart-g3');
const g3x = linear(-40, 1195, 40, 1472);
const g3y = linear(-40, 1247, 40, 968);
drawTsneAxes(g3, 'g3', g3x, g3y, 1187, 946, 1254, 1496, 1277);
drawExpression(g3, 'g3', g3x, g3y, 3);

// ---------- Violin plots ----------
function violinPath(grid, density, xs, cy) {
  const H = 22;
  const top = grid.map(function (v, i) { return [xs(v), cy - density[i] * H]; });
  const bot = grid.map(function (v, i) { return [xs(v), cy + density[i] * H]; }).reverse();
  function curve(pts) {
    let d = '';
    for (let i = 0; i < pts.length - 1; i++) {
      const p0 = pts[Math.max(i - 1, 0)], p1 = pts[i], p2 = pts[i + 1], p3 = pts[Math.min(i + 2, pts.length - 1)];
      const c1x = p1[0] + (p2[0] - p0[0]) / 6, c1y = p1[1] + (p2[1] - p0[1]) / 6;
      const c2x = p2[0] - (p3[0] - p1[0]) / 6, c2y = p2[1] - (p3[1] - p1[1]) / 6;
      d += 'C' + c1x.toFixed(1) + ' ' + c1y.toFixed(1) + ' ' + c2x.toFixed(1) + ' ' + c2y.toFixed(1) + ' ' + p2[0].toFixed(1) + ' ' + p2[1].toFixed(1);
    }
    return d;
  }
  return 'M' + top[0][0] + ' ' + top[0][1] + curve(top) + 'L' + bot[0][0] + ' ' + bot[0][1] + curve(bot) + 'Z';
}
function drawViolin(parent, prefix, grid, density, xs, cy, fill, stroke) {
  const v = make('path', parent, { d: violinPath(grid, density, xs, cy), fill: fill, stroke: stroke, 'stroke-width': 1 });
  
  
}
function drawDots(parent, prefix, dots, xs, cy) {
  dots.forEach(function (p) {
    const dot = make('circle', parent, { cx: xs(p[0]), cy: cy + p[1] * 22, r: 1.1, fill: '#000' });
    
    
  });
}
function drawViolinFrame(parent, prefix, left, top, bottom, right, ticks, xs, rowY, means, tickLabelY, textShift) {
  axisLine(parent, left, top, right, top, 2.6, prefix + '-top-axis');
  axisLine(parent, left, top, left, bottom, 2.6, prefix + '-y-axis');
  axisLine(parent, left, bottom, right, bottom, 2.6, prefix + '-x-axis');
  ticks.forEach(function (t) {
    axisLine(parent, xs(t), bottom, xs(t), bottom + 7, 2, prefix + '-x-tick');
    label(parent, xs(t), tickLabelY, String(t), 'middle', 26, prefix + '-x-tick-label');
  });
  rowLabels.forEach(function (r, i) {
    axisLine(parent, left - 9, rowY(i), left, rowY(i), 2, prefix + '-y-tick');
    label(parent, left - 20, rowY(i) - 1 + textShift, r, 'end', 26.3, prefix + '-row-label');
    label(parent, 716, rowY(i) - 2 + textShift, means[i], 'middle', 26, prefix + '-mean-value');
  });
}
const h1 = document.getElementById('chart-h1');
const h1x = linear(0, 346, 8, 650);
const h1row = linear(0, 1464, 4, 1663);
drawViolinFrame(h1, 'h1', 331, 1433, 1692, 657, h1Ticks, h1x, h1row, sultMeans, 1721, -2);
drawViolin(h1, 'h1-epidermal', sultEpiGrid, sultEpiDensity, h1x, h1row(0), '#d870ea', '#8a3fa0');
sultLineMax.forEach(function (m, i) {
  const ln = make('line', h1, { x1: h1x(0), y1: h1row(i + 1), x2: h1x(m), y2: h1row(i + 1), stroke: '#8c8c8c', 'stroke-width': 1.6 });
  
  
});
drawDots(h1, 'h1-epidermal', sultEpiDots, h1x, h1row(0));
drawDots(h1, 'h1-basal', sultBasalDots, h1x, h1row(1));
drawDots(h1, 'h1-stem', sultStemDots, h1x, h1row(2));
drawDots(h1, 'h1-ksc', sultKscDots, h1x, h1row(3));
[1, 2, 3, 4].forEach(function (row) {
  drawDots(h1, 'h1-zero', zeroColumnJitter.map(function (j) { return [0, j]; }), h1x, h1row(row));
});

const h2 = document.getElementById('chart-h2');
const h2x = linear(0, 347, 9, 590);
const h2row = linear(0, 1882, 4, 2081);
drawViolinFrame(h2, 'h2', 332, 1852, 2110, 658, h2Ticks, h2x, h2row, krtMeans, 2140, -1);
drawViolin(h2, 'h2-epidermal', krtEpiGrid, krtEpiDensity, h2x, h2row(0), '#d870ea', '#8a3fa0');
drawViolin(h2, 'h2-basal', krtBasalGrid, krtBasalDensity, h2x, h2row(1), '#52b4f2', '#2a70a8');
drawViolin(h2, 'h2-stem', krtStemGrid, krtStemDensity, h2x, h2row(2), '#50c088', '#2c8058');
drawViolin(h2, 'h2-ksc', krtKscGrid, krtKscDensity, h2x, h2row(3), '#a9a42e', '#6e6a18');
drawViolin(h2, 'h2-leukocyte', krtLeukGrid, krtLeukDensity, h2x, h2row(4), '#f07c70', '#b04c44');
drawDots(h2, 'h2-epidermal', krtEpiDots, h2x, h2row(0));
drawDots(h2, 'h2-basal', krtBasalDots, h2x, h2row(1));
drawDots(h2, 'h2-stem', krtStemDots, h2x, h2row(2));
drawDots(h2, 'h2-ksc', krtKscDots, h2x, h2row(3));
drawDots(h2, 'h2-leukocyte', krtLeukDots, h2x, h2row(4));
</script>
</body>
</html>
